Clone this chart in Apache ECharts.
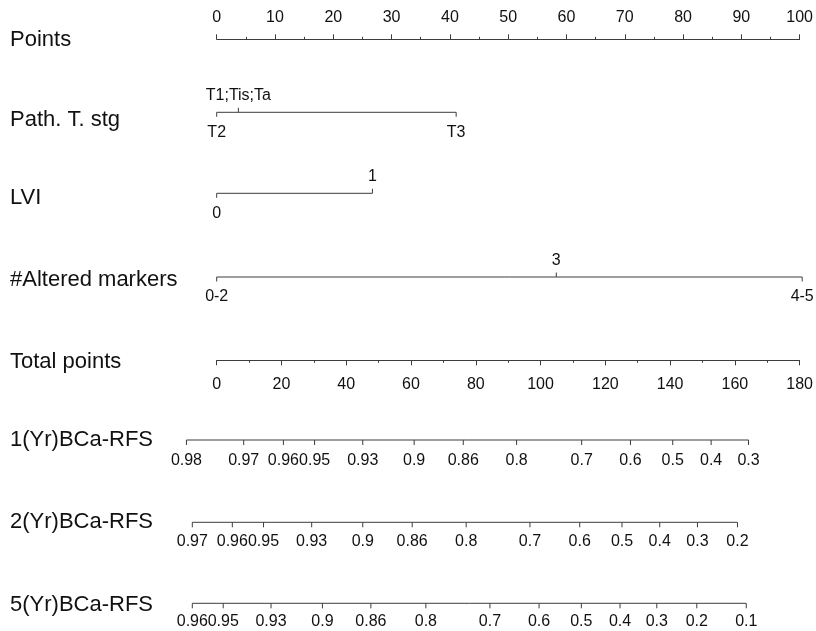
<!DOCTYPE html>
<html>
<head>
<meta charset="utf-8">
<script src="https://cdn.jsdelivr.net/npm/echarts@6/dist/echarts.min.js"></script>
<style>
  html, body { margin: 0; padding: 0; background: #fff; }
  #chart { width: 816px; height: 631px; }
</style>
</head>
<body>
<div id="chart"></div>
<script>
// ---- Nomogram data ----
// Predictor rows: level labels and their point scores (0-100 scale)
const pathTLevels = ['T2', 'T1;Tis;Ta', 'T3'];
const pathTPoints = [0, 3.7, 40.9];

const lviLevels = ['0', '1'];
const lviPoints = [0, 26.6];

const markerLevels = ['0-2', '3', '4-5'];
const markerPoints = [0, 58.0, 100];

// Recurrence-free survival scales: probability labels and total-point positions
const rfs1Labels = ['0.98', '0.97', '0.96', '0.95', '0.93', '0.9', '0.86', '0.8', '0.7', '0.6', '0.5', '0.4', '0.3'];
const rfs1Total  = [-9.3, 8.3, 20.5, 30.1, 44.9, 60.7, 75.8, 92.2, 112.2, 127.2, 140.2, 152.0, 163.5];

const rfs2Labels = ['0.97', '0.96', '0.95', '0.93', '0.9', '0.86', '0.8', '0.7', '0.6', '0.5', '0.4', '0.3', '0.2'];
const rfs2Total  = [-7.5, 4.8, 14.4, 29.2, 44.9, 60.1, 76.7, 96.3, 111.6, 124.6, 136.2, 147.8, 160.1];

const rfs5Labels = ['0.96', '0.95', '0.93', '0.9', '0.86', '0.8', '0.7', '0.6', '0.5', '0.4', '0.3', '0.2', '0.1'];
const rfs5Total  = [-7.5, 2.0, 16.7, 32.5, 47.4, 64.3, 84.0, 99.1, 112.1, 124.0, 135.3, 147.6, 162.8];

// Row titles on the left
const rowTitles = ['Points', 'Path. T. stg', 'LVI', '#Altered markers', 'Total points',
                   '1(Yr)BCa-RFS', '2(Yr)BCa-RFS', '5(Yr)BCa-RFS'];

// ---- Layout / style ----
const FONT = '"Liberation Sans", Arial, Helvetica, sans-serif';
const TEXT = '#111111';
const LINE = '#3c3c3c';
const TICK_FS = 16;
const TITLE_FS = 22;
const PLOT_LEFT = 216.7;
const PLOT_RIGHT = 13.8;
const titleY = [40, 120, 198, 280, 362, 440, 522, 605];

const chart = echarts.init(document.getElementById('chart'), null, { renderer: 'canvas' });

// Build a scale row: horizontal line, ticks and labels drawn on the given x axis
function scaleRow(opts) {
  const { xAxisIndex, positions, labels, y, sides, tickLen, above, below } = opts;
  const first = positions[0];
  const last = positions[positions.length - 1];
  return {
    type: 'custom',
    xAxisIndex, yAxisIndex: 0,
    data: positions.map((p, i) => [p, i]),
    clip: false,
    silent: true,
    animation: false,
    renderItem: function (params, api) {
      const x = api.value(0);
      const i = api.value(1);
      const pt = api.coord([x, y]);
      const up = sides[i] === 'above';
      const dir = up ? -1 : 1;
      const children = [
        {
          type: 'line',
          shape: { x1: pt[0], y1: pt[1], x2: pt[0], y2: pt[1] + dir * tickLen },
          style: { stroke: LINE, lineWidth: 1 }
        },
        {
          type: 'text',
          x: pt[0],
          y: pt[1] + (up ? -above : below),
          style: {
            text: labels[i],
            fill: TEXT,
            font: TICK_FS + 'px ' + FONT,
            align: 'center',
            verticalAlign: 'middle'
          }
        }
      ];
      if (i === 0) {
        // the scale's baseline, from its first to its last tick
        const a = api.coord([first, y]);
        const b = api.coord([last, y]);
        children.push({
          type: 'line',
          shape: { x1: a[0], y1: a[1], x2: b[0], y2: b[1] },
          style: { stroke: LINE, lineWidth: 1 }
        });
      }
      return { type: 'group', children };
    }
  };
}

const allBelow = n => new Array(n).fill('below');

const series = [
  scaleRow({ xAxisIndex: 0, positions: pathTPoints, labels: pathTLevels, y: 112.3,
             sides: ['below', 'above', 'below'], tickLen: 4.5, above: 17, below: 20.5 }),
  scaleRow({ xAxisIndex: 0, positions: lviPoints, labels: lviLevels, y: 193.3,
             sides: ['below', 'above'], tickLen: 4.5, above: 16.5, below: 20 }),
  scaleRow({ xAxisIndex: 0, positions: markerPoints, labels: markerLevels, y: 277,
             sides: ['below', 'above', 'below'], tickLen: 4.5, above: 16.5, below: 20 }),
  scaleRow({ xAxisIndex: 1, positions: rfs1Total, labels: rfs1Labels, y: 440,
             sides: allBelow(rfs1Total.length), tickLen: 5, above: 0, below: 20.5 }),
  scaleRow({ xAxisIndex: 1, positions: rfs2Total, labels: rfs2Labels, y: 522.3,
             sides: allBelow(rfs2Total.length), tickLen: 5, above: 0, below: 19.5 }),
  scaleRow({ xAxisIndex: 1, positions: rfs5Total, labels: rfs5Labels, y: 603.3,
             sides: allBelow(rfs5Total.length), tickLen: 5, above: 0, below: 18 })
];

const hiddenY = idx => ({ type: 'value', gridIndex: idx, show: false, min: 0, max: 1 });

const option = {
  backgroundColor: '#ffffff',
  animation: false,
  grid: [
    // canvas-wide grid for predictor and survival rows
    { left: PLOT_LEFT, right: PLOT_RIGHT, top: 0, bottom: 0 },
    // Points scale
    { left: PLOT_LEFT, right: PLOT_RIGHT, top: 29.3, height: 10 },
    // Total points scale
    { left: PLOT_LEFT, right: PLOT_RIGHT, top: 350, height: 10.3 }
  ],
  xAxis: [
    { type: 'value', gridIndex: 0, min: 0, max: 100, show: false },
    { type: 'value', gridIndex: 0, min: 0, max: 180, show: false },
    {
      type: 'value', gridIndex: 1, position: 'top', min: 0, max: 100, interval: 10,
      axisLine: { show: true, lineStyle: { color: LINE, width: 1 } },
      axisTick: { show: true, length: 5, lineStyle: { color: LINE } },
      minorTick: { show: true, splitNumber: 2, length: 2.5, lineStyle: { color: LINE } },
      splitLine: { show: false },
      axisLabel: { color: TEXT, fontSize: TICK_FS, fontFamily: FONT, margin: 4,
                   showMinLabel: true, showMaxLabel: true, hideOverlap: false }
    },
    {
      type: 'value', gridIndex: 2, position: 'bottom', min: 0, max: 180, interval: 20,
      axisLine: { show: true, lineStyle: { color: LINE, width: 1 } },
      axisTick: { show: true, length: 5, lineStyle: { color: LINE } },
      minorTick: { show: true, splitNumber: 2, length: 2.5, lineStyle: { color: LINE } },
      splitLine: { show: false },
      axisLabel: { color: TEXT, fontSize: TICK_FS, fontFamily: FONT, margin: 16,
                   showMinLabel: true, showMaxLabel: true, hideOverlap: false }
    }
  ],
  yAxis: [
    { type: 'value', gridIndex: 0, show: false, min: 0, max: 631, inverse: true },
    hiddenY(1),
    hiddenY(2)
  ],
  graphic: rowTitles.map((t, i) => ({
    type: 'text',
    left: 10,
    top: titleY[i] - 11,
    silent: true,
    style: { text: t, fill: TEXT, font: TITLE_FS + 'px ' + FONT }
  })),
  series: series
};

chart.setOption(option);
</script>
</body>
</html>
